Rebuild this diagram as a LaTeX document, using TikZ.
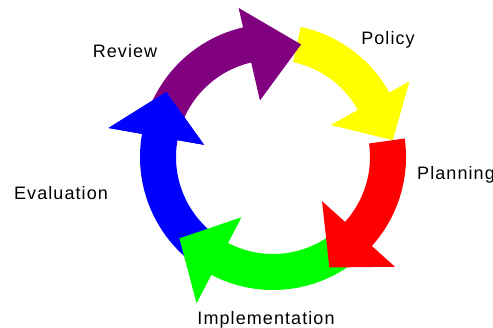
\documentclass[tikz,border=0pt]{standalone}
\usepackage{fontspec}
\setmainfont{Liberation Sans}[LetterSpace=6]
\definecolor{cpurple}{RGB}{128,0,128}
\definecolor{cyellow}{RGB}{255,255,0}
\definecolor{cred}{RGB}{255,0,0}
\definecolor{cgreen}{RGB}{0,255,0}
\definecolor{cblue}{RGB}{0,0,255}
% #1 colour, #2 tail angle, #3 head base angle, #4 tip angle, #5 tip radius, #6 inner wing radius, #7 outer wing radius
\newcommand\cyclearrow[7]{%
  \fill[#1] (#2:133bp) arc[start angle=#2, end angle=#3, radius=133bp]
    -- (#3:#7bp) -- (#4:#5bp) -- (#3:#6bp) -- (#3:97bp)
    arc[start angle=#3, end angle=#2, radius=97bp] -- cycle;}
\newcommand\cyclehead[6]{%
  \fill[#1] (#2:133bp) -- (#2:#6bp) -- (#3:#4bp) -- (#2:#5bp) -- (#2:97bp) -- cycle;}
\begin{document}
\begin{tikzpicture}[x=1bp,y=1bp,
  lbl/.style={inner sep=0pt, text=black, font=\fontsize{18bp}{20bp}\selectfont}]
\useasboundingbox (0,0) rectangle (493,327);
\fill[white] (0,0) rectangle (493,327);
\begin{scope}[shift={(273,170)}]
  \cyclearrow{cblue}{232}{170}{148.6}{125}{70}{167}
  \cyclearrow{cgreen}{-52}{-117.6}{-139}{124}{68}{165}
  \cyclearrow{cyellow}{78}{29}{8}{121}{66}{156}
  \cyclearrow{cred}{8}{-42}{-63}{124}{66}{164}
  \cyclearrow{cpurple}{160}{103}{76}{116}{58}{153}
  \cyclehead{cblue}{170}{148.6}{125}{70}{167}
\end{scope}
\node[lbl, anchor=base] (review) at (125,270) {Review};
\node[lbl, anchor=base] (policy) at (388,283) {Policy};
\node[lbl, anchor=base west] (planning) at (417,148) {Planning};
\node[lbl, anchor=base] (evaluation) at (61,128) {Evaluation};
\node[lbl, anchor=base] (implementation) at (266,3) {Implementation};
\end{tikzpicture}
\end{document}
